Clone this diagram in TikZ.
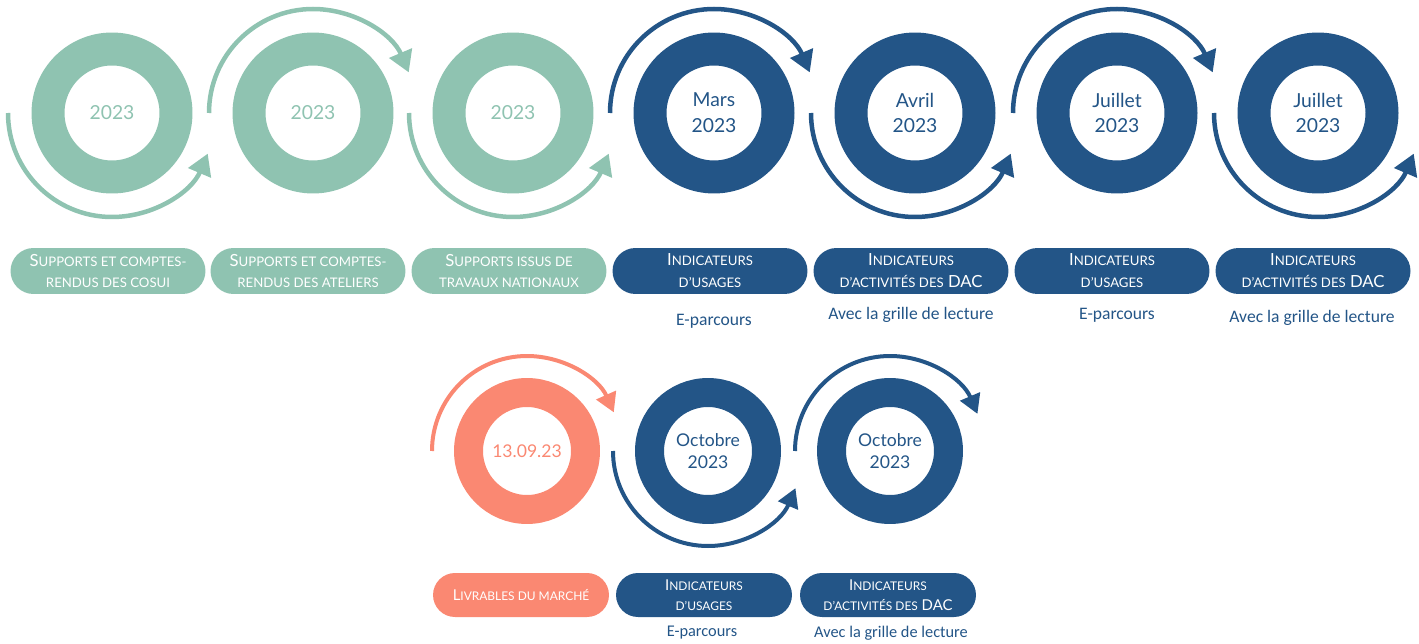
\documentclass[tikz,border=0pt]{standalone}
\usepackage{fontspec}
\setmainfont{Lato}
\newfontfamily\descfont{Carlito}
\usepackage{tikz}
\usetikzlibrary{arrows.meta, positioning, calc}
\definecolor{myteal}{RGB}{143,195,177}
\definecolor{myblue}{RGB}{35,85,135}
\definecolor{mysalmon}{RGB}{250,136,114}
\newcommand{\smc}[1]{{\fontsize{7.5}{9}\selectfont #1}}
\newcommand{\smcs}[1]{{\fontsize{6.8}{8}\selectfont #1}}
\tikzset{
  tealring/.style={circle, draw=myteal, line width=0.66cm, minimum size=2.56cm,
    inner sep=0pt, text=myteal, align=center, font=\fontsize{11}{14.7}\selectfont},
  bluering/.style={tealring, draw=myblue, text=myblue},
  smallring/.style={circle, draw=myblue, line width=0.58cm, minimum size=2.34cm,
    inner sep=0pt, text=myblue, align=center, font=\fontsize{10}{12.5}\selectfont},
  salmonring/.style={smallring, draw=mysalmon, text=mysalmon},
  tealpill/.style={rectangle, fill=myteal, rounded corners=0.46cm,
    minimum width=3.9cm, minimum height=0.92cm, inner sep=0pt,
    text=white, align=center, font=\fontsize{9.5}{12.5}\selectfont},
  bluepill/.style={tealpill, fill=myblue},
  smallpill/.style={bluepill, rounded corners=0.44cm, minimum width=3.52cm,
    minimum height=0.88cm, font=\fontsize{8.5}{11.5}\selectfont},
  salmonpill/.style={smallpill, fill=mysalmon},
  desc/.style={text=myblue, font=\descfont\fontsize{10}{12}\selectfont},
  smalldesc/.style={desc, font=\descfont\fontsize{9.3}{11}\selectfont},
  tealarrow/.style={-{Triangle[width=0.48cm, length=0.42cm]}, line width=0.09cm, color=myteal},
  bluearrow/.style={tealarrow, color=myblue},
  smallarrow/.style={-{Triangle[width=0.42cm, length=0.38cm]}, line width=0.08cm, color=myblue},
  salmonarrow/.style={smallarrow, color=mysalmon}
}
\begin{document}
\begin{tikzpicture}[x=0.02cm, y=0.02cm]
  \useasboundingbox (0,0) rectangle (1419,643);
  % first row: rings
  \node[tealring] (r1) at (112,530) {2023};
  \node[tealring] (r2) at (313,530) {2023};
  \node[tealring] (r3) at (513,530) {2023};
  \node[bluering] (r4) at (714,530) {Mars\\2023};
  \node[bluering] (r5) at (915,530) {Avril\\2023};
  \node[bluering] (r6) at (1117,530) {Juillet\\2023};
  \node[bluering] (r7) at (1318,530) {Juillet\\2023};
  % first row: turning arrows
  \draw[tealarrow] ([shift={(180:104)}]r1.center) arc (180:337:104);
  \draw[tealarrow] ([shift={(180:104)}]r2.center) arc (180:23:104);
  \draw[tealarrow] ([shift={(180:104)}]r3.center) arc (180:337:104);
  \draw[bluearrow] ([shift={(180:104)}]r4.center) arc (180:23:104);
  \draw[bluearrow] ([shift={(180:104)}]r5.center) arc (180:337:104);
  \draw[bluearrow] ([shift={(180:104)}]r6.center) arc (180:23:104);
  \draw[bluearrow] ([shift={(180:104)}]r7.center) arc (180:337:104);
  % first row: labels
  \node[tealpill] (p1) at (108,372) {S\smc{UPPORTS ET COMPTES-}\\\smc{RENDUS DES COSUI}};
  \node[tealpill] (p2) at (308,372) {S\smc{UPPORTS ET COMPTES-}\\\smc{RENDUS DES ATELIERS}};
  \node[tealpill] (p3) at (509,372) {S\smc{UPPORTS ISSUS DE}\\\smc{TRAVAUX NATIONAUX}};
  \node[bluepill] (p4) at (710,372) {I\smc{NDICATEURS}\\\smc{D’USAGES}};
  \node[bluepill] (p5) at (911,372) {I\smc{NDICATEURS}\\\smc{D’ACTIVITÉS DES} DAC};
  \node[bluepill] (p6) at (1112,372) {I\smc{NDICATEURS}\\\smc{D’USAGES}};
  \node[bluepill] (p7) at (1313,372) {I\smc{NDICATEURS}\\\smc{D’ACTIVITÉS DES} DAC};
  \node[desc] (d4) at (714,322) {E-parcours};
  \node[desc] (d5) at (911,328) {Avec la grille de lecture};
  \node[desc] (d6) at (1117,328) {E-parcours};
  \node[desc] (d7) at (1312,325) {Avec la grille de lecture};
  % second row
  \node[salmonring] (s1) at (527,192) {13.09.23};
  \node[smallring] (s2) at (708,192) {Octobre\\2023};
  \node[smallring] (s3) at (890,192) {Octobre\\2023};
  \draw[salmonarrow] ([shift={(180:95)}]s1.center) arc (180:24:95);
  \draw[smallarrow] ([shift={(180:95)}]s2.center) arc (180:337:95);
  \draw[smallarrow] ([shift={(180:95)}]s3.center) arc (180:23:95);
  \node[salmonpill] (q1) at (521,48) {L\smcs{IVRABLES DU MARCHÉ}};
  \node[smallpill] (q2) at (704,48) {I\smcs{NDICATEURS}\\\smcs{D’USAGES}};
  \node[smallpill] (q3) at (888,48) {I\smcs{NDICATEURS}\\\smcs{D’ACTIVITÉS DES} DAC};
  \node[smalldesc] (e2) at (702,10) {E-parcours};
  \node[smalldesc] (e3) at (891,10) {Avec la grille de lecture};
\end{tikzpicture}
\end{document}
